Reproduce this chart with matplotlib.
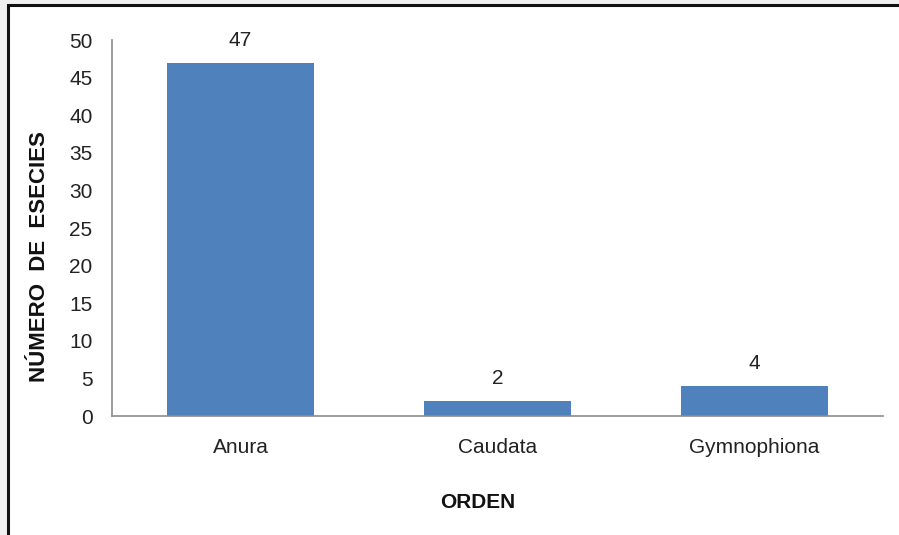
import matplotlib
matplotlib.use("Agg")
import matplotlib.pyplot as plt
from matplotlib.patches import Rectangle
from matplotlib import font_manager

categories = ["Anura", "Caudata", "Gymnophiona"]
values = [47, 2, 4]
yticks = [0, 5, 10, 15, 20, 25, 30, 35, 40, 45, 50]

names = {f.name for f in font_manager.fontManager.ttflist}
fam = "Liberation Sans Narrow" if "Liberation Sans Narrow" in names else "Liberation Sans"
plt.rcParams["font.family"] = [fam, "DejaVu Sans"]

W, H = 899, 535
fig = plt.figure(figsize=(W / 100, H / 100), dpi=100)
fig.patch.set_facecolor("#f0f0f0")

# white framed area
frame = Rectangle((8 / W, -0.1), 1.2, (H - 5) / H + 0.1,
                  transform=fig.transFigure, facecolor="white",
                  edgecolor="#111111", linewidth=2.2, zorder=-5)
fig.patches.append(frame)

ax = fig.add_axes([112 / W, (H - 416) / H, (883 - 112) / W, (416 - 40) / H])
ax.set_zorder(2)
ax.set_facecolor("none")
x = range(len(categories))
ax.bar(x, values, width=0.57, color="#4F81BD", zorder=2)
for xi, v in zip(x, values):
    ax.text(xi, v + 1.7, str(v), ha="center", va="bottom", fontsize=15, color="#222222")

ax.set_xlim(-0.5, len(categories) - 0.5)
ax.set_ylim(0, 50)
ax.set_yticks(yticks)
ax.set_yticklabels([str(t) for t in yticks], fontsize=15, color="#222222")
ax.set_xticks(list(x))
ax.set_xticklabels(categories, fontsize=15, color="#222222")
ax.tick_params(axis="both", length=0)
ax.tick_params(axis="y", pad=14)
ax.tick_params(axis="x", pad=16)
for s in ["top", "right"]:
    ax.spines[s].set_visible(False)
for s in ["left", "bottom"]:
    ax.spines[s].set_color("#8c8c8c")
    ax.spines[s].set_linewidth(1.2)

fig.text(40 / W, (H - 257) / H, "NÚMERO  DE  ESECIES", rotation=90, ha="center", va="center",
         fontsize=16, fontweight="bold", color="#111111")
fig.text(478 / W, (H - 503) / H, "ORDEN", ha="center", va="center",
         fontsize=15, fontweight="bold", color="#111111")

fig.savefig("out.png", dpi=100, facecolor=fig.get_facecolor())
